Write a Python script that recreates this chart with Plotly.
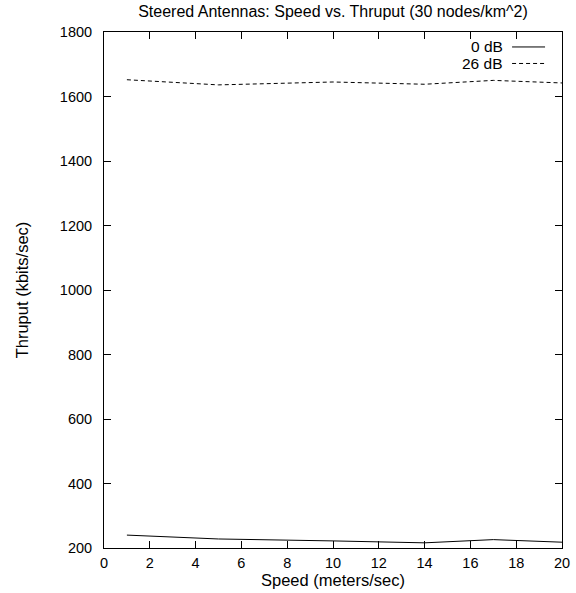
import plotly.graph_objects as go

speed = [1, 5, 10, 14, 17, 20]
thr_0db = [240, 228, 222, 216, 226, 218]
thr_26db = [1652, 1636, 1645, 1638, 1650, 1642]
series_names = ["0 dB", "26 dB"]
x_ticks = list(range(0, 21, 2))
y_ticks = list(range(200, 1801, 200))

FONT = "Liberation Sans, Arial, Helvetica, sans-serif"
TICK_FONT = dict(family=FONT, size=14.5, color="black")
TEXT_FONT = dict(family=FONT, size=16.5, color="black")
LEG_FONT = dict(family=FONT, size=15.5, color="black")

fig = go.Figure()
fig.add_trace(go.Scatter(x=speed, y=thr_0db, mode="lines", name=series_names[0],
                         line=dict(color="black", width=1), showlegend=False))
fig.add_trace(go.Scatter(x=speed, y=thr_26db, mode="lines", name=series_names[1],
                         line=dict(color="black", width=1, dash="4px,3px"), showlegend=False))

axis_common = dict(showgrid=False, zeroline=False, showline=True, linecolor="black",
                   linewidth=1, mirror="allticks", ticks="inside", ticklen=7,
                   tickcolor="black", tickwidth=1, tickfont=TICK_FONT, automargin=False)

fig.update_xaxes(range=[0, 20], tickvals=x_ticks, ticklabelstandoff=2,
                 title=dict(text="Speed (meters/sec)", font=TEXT_FONT, standoff=0),
                 **axis_common)
fig.update_yaxes(range=[200, 1800], tickvals=y_ticks, ticklabelstandoff=8,
                 title=dict(text="Thruput (kbits/sec)", font=TEXT_FONT, standoff=27),
                 **axis_common)

# gnuplot-style legend: text right-aligned, sample line to the right
legend_rows = [(series_names[0], "solid", 0.971), (series_names[1], "4px,3px", 0.939)]
for name, dash, yp in legend_rows:
    fig.add_annotation(xref="paper", yref="paper", x=0.8755, y=yp, text=name,
                       showarrow=False, xanchor="right", yanchor="middle",
                       font=LEG_FONT)
    fig.add_shape(type="line", xref="paper", yref="paper", x0=0.891, x1=0.963,
                  y0=yp, y1=yp, line=dict(color="black", width=1, dash=dash))

fig.update_layout(
    width=576, height=593,
    margin=dict(l=104, r=14, t=32, b=45, autoexpand=False),
    paper_bgcolor="white", plot_bgcolor="white",
    title=dict(text="Steered Antennas: Speed vs. Thruput (30 nodes/km^2)",
               x=0.5, xref="paper", xanchor="center", y=0.981, yanchor="middle",
               font=dict(family=FONT, size=16, color="black")),
    font=dict(family=FONT, size=14, color="black"),
)

fig.write_html("out.html", config={"displayModeBar": False})

# remove the browser's default page margin so the figure sits at the window origin
with open("out.html", "r", encoding="utf-8") as f:
    html = f.read()
html = html.replace("<body>", '<body style="margin:0;padding:0;">', 1)
with open("out.html", "w", encoding="utf-8") as f:
    f.write(html)
